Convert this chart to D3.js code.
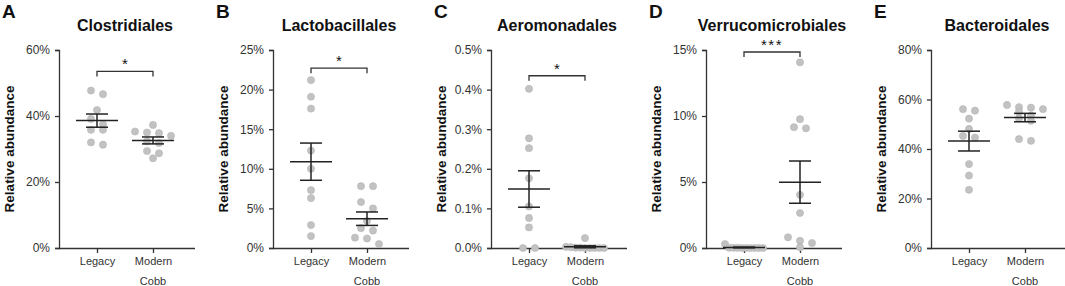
<!DOCTYPE html>
<html>
<head>
<meta charset="utf-8">
<script src="https://cdn.jsdelivr.net/npm/d3@7"></script>
<style>
  body { margin: 0; background: #fff; }
  svg { font-family: "Liberation Sans", Arial, sans-serif; }
</style>
</head>
<body>
<svg id="chart" width="1065" height="286"></svg>
<script>
// panel letters, titles and groups
const letters = ["A", "B", "C", "D", "E"]
const titles = ["Clostridiales", "Lactobacillales", "Aeromonadales", "Verrucomicrobiales", "Bacteroidales"]
const groups = ["Legacy", "Modern"]

// y axis maximum and ticks (in %)
const yMax = [60, 25, 0.5, 15, 80]
const yTicks = [
  [0, 20, 40, 60],
  [0, 5, 10, 15, 20, 25],
  [0, 0.1, 0.2, 0.3, 0.4, 0.5],
  [0, 5, 10, 15],
  [0, 20, 40, 60, 80]
]
const tickDecimals = [0, 0, 1, 0, 0]

// relative abundance per bird (%)
const legacyValues = [
  [47.7, 46.6, 41.8, 39.1, 37.5, 35.8, 35.8, 32.0, 31.3],
  [21.2, 19.1, 17.6, 12.3, 10.0, 7.3, 6.3, 2.9, 1.5],
  [0.402, 0.277, 0.252, 0.176, 0.105, 0.076, 0.052, 0.0, 0.0],
  [0.3, 0.02, 0.01, 0.01, 0.0, 0.0, 0.0, 0.0, 0.0, 0.0],
  [56.1, 55.5, 52.3, 48.1, 45.3, 44.6, 33.9, 29.3, 23.5]
]
const modernValues = [
  [37.3, 35.3, 35.0, 34.8, 34.0, 32.3, 31.8, 29.4, 28.7, 27.2],
  [7.8, 7.8, 5.8, 5.0, 3.4, 2.5, 2.2, 1.3, 1.2, 0.5],
  [0.025, 0.003, 0.002, 0.001, 0.001, 0.0, 0.0, 0.0, 0.0, 0.0],
  [14.07, 9.76, 9.15, 9.07, 4.03, 2.65, 0.81, 0.55, 0.38, 0.05],
  [57.8, 56.9, 56.7, 56.1, 55.1, 53.5, 52.4, 51.4, 44.0, 43.3]
]

// mean and SEM as drawn
const legacyMean = [38.6, 10.9, 0.149, 0.04, 43.2]
const legacySem = [2.0, 2.35, 0.046, 0.03, 4.0]
const modernMean = [32.6, 3.7, 0.003, 4.99, 52.7]
const modernSem = [1.05, 0.85, 0.0025, 1.6, 1.7]

// significance brackets (level in %)
const sigLevel = [53.5, 22.7, 0.435, 14.85, null]
const sigLabel = ["*", "*", "*", "***", ""]

const svg = d3.select("#chart")
const axisX = [59, 273, 491, 706, 931]   // where each panel's y axis sits
const yTop = 50, yBottom = 248
const ink = "#333"

// GraphPad-like scatter: put points of similar height in a row
function swarm(values, y) {
  let pts = values.map(v => ({ v: v, py: y(v) })).sort((a, b) => a.py - b.py)
  let bins = []
  pts.forEach(p => {
    let b = bins[bins.length - 1]
    if (b && p.py - b[0].py <= 6.5) b.push(p)
    else bins.push([p])
  })
  bins.forEach(b => {
    let n = b.length
    let step = n > 1 ? Math.min(12, 38 / (n - 1)) : 0
    b.forEach((p, i) => p.dx = (i - (n - 1) / 2) * step)
  })
  return pts
}

letters.forEach((letter, i) => {
  let ax = axisX[i]
  let g = svg.append("g")

  let y = d3.scaleLinear().domain([0, yMax[i]]).range([yBottom, yTop])
  let x = d3.scalePoint().domain(groups).range([ax + 38, ax + 94])

  // panel letter and title
  g.append("text").attr("x", ax - 57).attr("y", 18)
    .attr("font-size", 19).attr("font-weight", "bold").attr("fill", "#111")
    .text(letter)
  g.append("text").attr("x", ax + 66).attr("y", 31)
    .attr("text-anchor", "middle").attr("font-size", 16).attr("font-weight", "bold").attr("fill", "#111")
    .text(titles[i])

  // y axis
  let yAxis = g.append("g").attr("transform", `translate(${ax},0)`)
    .call(d3.axisLeft(y).tickValues(yTicks[i]).tickSize(4).tickPadding(5)
      .tickFormat(d => d.toFixed(tickDecimals[i]) + "%"))
  yAxis.selectAll("text").attr("font-size", 12).attr("fill", ink)
  yAxis.attr("font-family", null)
  yAxis.selectAll("line, path").attr("stroke", ink).attr("stroke-width", 1.3)

  // x axis
  let xAxis = g.append("g").attr("transform", `translate(0,${yBottom})`)
    .call(d3.axisBottom(x).tickSize(5).tickSizeOuter(0).tickPadding(5))
  xAxis.attr("font-family", null)
  xAxis.select("path").attr("d", `M${ax},0.5H${ax + 136}`)
  xAxis.selectAll("line, path").attr("stroke", ink).attr("stroke-width", 1.3)
  xAxis.selectAll("text").attr("font-size", 11).attr("fill", ink)
    .attr("dy", null).attr("y", 17)
  g.append("text").attr("x", x("Modern")).attr("y", 285)
    .attr("text-anchor", "middle").attr("font-size", 11).attr("fill", ink)
    .text("Cobb")

  // y axis label
  g.append("text")
    .attr("transform", `translate(${ax - 45},${(yTop + yBottom) / 2}) rotate(-90)`)
    .attr("text-anchor", "middle").attr("font-size", 13.5).attr("font-weight", "bold").attr("fill", "#111")
    .text("Relative abundance")

  // dots
  let sets = [
    { group: "Legacy", values: legacyValues[i], mean: legacyMean[i], sem: legacySem[i] },
    { group: "Modern", values: modernValues[i], mean: modernMean[i], sem: modernSem[i] }
  ]
  sets.forEach(s => {
    let cx = x(s.group)
    g.append("g").selectAll("circle")
      .data(swarm(s.values, y))
      .join("circle")
      .attr("cx", d => cx + d.dx)
      .attr("cy", d => d.py)
      .attr("r", 3.6)
      .attr("fill", "#c2c2c2")
      .attr("stroke", "#b0b0b0")
      .attr("stroke-width", 0.5)
  })

  // mean and SEM
  sets.forEach(s => {
    let cx = x(s.group)
    let lo = y(Math.max(0, s.mean - s.sem)), hi = y(s.mean + s.sem)
    let m = g.append("g").attr("stroke", "#222").attr("stroke-width", 1.5)
    m.append("line").attr("x1", cx - 21).attr("x2", cx + 21).attr("y1", y(s.mean)).attr("y2", y(s.mean))
    m.append("line").attr("x1", cx).attr("x2", cx).attr("y1", hi).attr("y2", lo)
    m.append("line").attr("x1", cx - 11).attr("x2", cx + 11).attr("y1", hi).attr("y2", hi)
    m.append("line").attr("x1", cx - 11).attr("x2", cx + 11).attr("y1", lo).attr("y2", lo)
  })

  // significance bracket
  if (sigLevel[i] != null) {
    let by = y(sigLevel[i])
    let x1 = x("Legacy"), x2 = x("Modern")
    g.append("path")
      .attr("d", `M${x1},${by + 5}V${by}H${x2}V${by + 5}`)
      .attr("fill", "none").attr("stroke", ink).attr("stroke-width", 1.3)
    g.append("text").attr("x", (x1 + x2) / 2).attr("y", by - 2)
      .attr("text-anchor", "middle").attr("font-size", 15).attr("fill", "#111")
      .attr("letter-spacing", sigLabel[i].length > 1 ? 1.5 : 0)
      .text(sigLabel[i])
  }
})
</script>
</body>
</html>
